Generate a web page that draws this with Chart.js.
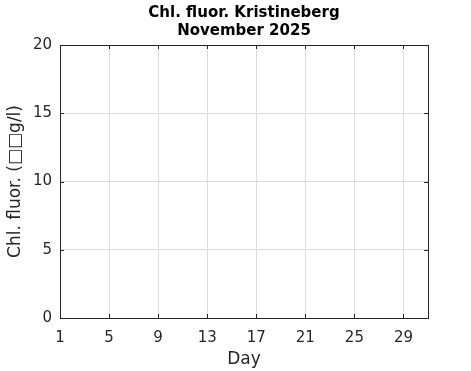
<!DOCTYPE html>
<html><head><meta charset="utf-8">
<script src="https://cdn.jsdelivr.net/npm/chart.js@4/dist/chart.umd.min.js"></script>
<style>html,body{margin:0;padding:0;background:#fff}#w{width:471px;height:371px}</style>
</head><body><div id="w"><canvas id="c" width="471" height="371"></canvas></div>
<script>
const days = [];
const chlValues = [];
const xTicks = [1,5,9,13,17,21,25,29];
const yTicks = [0,5,10,15,20];
const titleLines = ['Chl. fluor. Kristineberg','November 2025'];
const yLabel = 'Chl. fluor. (\u25A1\u25A1g/l)';
const xLabel = 'Day';

const FONT = "'DejaVu Sans', sans-serif";
const boxTicks = {
  id:'boxTicks',
  afterDraw(chart){
    const {ctx, chartArea:a, scales:{x,y}} = chart;
    ctx.save();
    ctx.strokeStyle='#262626'; ctx.lineWidth=1;
    ctx.beginPath();
    xTicks.forEach(v=>{const p=Math.round(x.getPixelForValue(v))+0.5;
      ctx.moveTo(p,a.bottom); ctx.lineTo(p,a.bottom-4);
      ctx.moveTo(p,a.top); ctx.lineTo(p,a.top+4);});
    yTicks.forEach(v=>{const p=Math.round(y.getPixelForValue(v))+0.5;
      ctx.moveTo(a.left,p); ctx.lineTo(a.left+4,p);
      ctx.moveTo(a.right,p); ctx.lineTo(a.right-4,p);});
    ctx.stroke();
    ctx.strokeRect(Math.round(a.left)+0.5, Math.round(a.top)+0.5, Math.round(a.right-a.left), Math.round(a.bottom-a.top));
    ctx.restore();
  }
};

new Chart(document.getElementById('c'), {
  type:'line',
  data:{labels:days, datasets:[{data:chlValues, borderColor:'#0072bd', pointRadius:0}]},
  options:{
    responsive:false, animation:false,
    layout:{padding:{left:0,right:43,top:4,bottom:0}},
    plugins:{
      legend:{display:false}, tooltip:{enabled:false},
      title:{display:true, text:titleLines, fullSize:false, color:'#000',
        font:{family:FONT, size:15, weight:'bold', lineHeight:1.2}, padding:{top:0,bottom:5}}
    },
    scales:{
      x:{type:'linear', min:1, max:31,
        afterBuildTicks(s){s.ticks = xTicks.map(v=>({value:v}));},
        afterFit(s){s.height=53;},
        grid:{color:'#dcdcdc', drawTicks:false, display:true},
        border:{display:false},
        ticks:{color:'#262626', font:{family:FONT,size:15}, padding:11, maxRotation:0, autoSkip:false},
        title:{display:true, text:xLabel, color:'#262626', font:{family:FONT,size:17}, padding:{top:0,bottom:1}}
      },
      y:{min:0, max:20,
        afterBuildTicks(s){s.ticks = yTicks.map(v=>({value:v}));},
        afterFit(s){s.width=60;},
        grid:{color:'#dcdcdc', drawTicks:false},
        border:{display:false},
        ticks:{color:'#262626', font:{family:FONT,size:15}, padding:8},
        title:{display:true, text:yLabel, color:'#262626', font:{family:FONT,size:17}, padding:{top:5,bottom:4}}
      }
    }
  },
  plugins:[boxTicks]
});
</script></body></html>
